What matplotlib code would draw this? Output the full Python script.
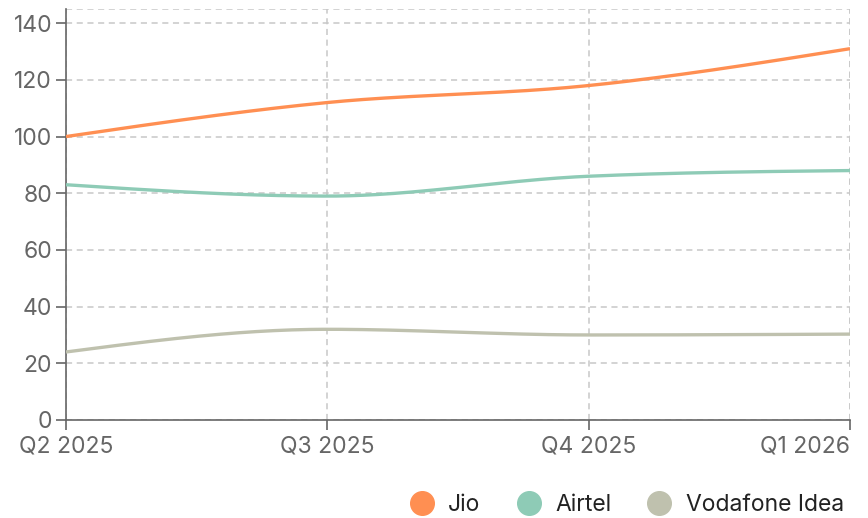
import numpy as np
from matplotlib import pyplot as plt
from matplotlib.lines import Line2D

quarters = ["Q2 2025", "Q3 2025", "Q4 2025", "Q1 2026"]
jio = [100, 112, 118, 131]
airtel = [83, 79, 86, 88]
vodafone = [24, 32, 30, 30.3]

series = [("Jio", jio, "#ff8f52"),
          ("Airtel", airtel, "#8ecbb6"),
          ("Vodafone Idea", vodafone, "#bfc1ae")]


def monotone(x, y, n=60):
  '''
  Monotone cubic curve through the points (like d3 curveMonotoneX).
  '''
  x = np.asarray(x, float)
  y = np.asarray(y, float)
  h = np.diff(x)
  s = np.diff(y) / h
  m = np.zeros_like(y)
  for i in range(1, len(y) - 1):
    if s[i - 1] * s[i] > 0:
      p = (s[i - 1] * h[i] + s[i] * h[i - 1]) / (h[i - 1] + h[i])
      m[i] = (np.sign(s[i - 1]) + np.sign(s[i])) * min(abs(s[i - 1]), abs(s[i]), 0.5 * abs(p))
  m[0] = (3 * s[0] - m[1]) / 2 if len(y) > 2 else s[0]
  m[-1] = (3 * s[-1] - m[-2]) / 2 if len(y) > 2 else s[-1]
  xs, ys = [], []
  for i in range(len(h)):
    t = np.linspace(0, 1, n)
    h00 = 2 * t**3 - 3 * t**2 + 1
    h10 = t**3 - 2 * t**2 + t
    h01 = -2 * t**3 + 3 * t**2
    h11 = t**3 - t**2
    xs.append(x[i] + t * h[i])
    ys.append(h00 * y[i] + h10 * h[i] * m[i] + h01 * y[i + 1] + h11 * h[i] * m[i + 1])
  return np.concatenate(xs), np.concatenate(ys)


plt.rcParams['font.family'] = ['Inter', 'DejaVu Sans']

fig = plt.figure(figsize=(8.68, 5.18), dpi=100)
ax = fig.add_axes([66 / 868, 1 - 420 / 518, (850 - 66) / 868, (420 - 9) / 518])

xpos = np.arange(len(quarters))
for name, vals, col in series:
  cx, cy = monotone(xpos, vals)
  ax.plot(cx, cy, color=col, lw=2.4, solid_capstyle='butt', zorder=3)

ax.set_xlim(0, len(quarters) - 1)
ax.set_ylim(0, 145)
ax.set_xticks(xpos)
ax.set_xticklabels(quarters)
ax.set_yticks(range(0, 141, 20))

grid_kw = dict(color="#c8c8c8", lw=1.1, ls=(0, (4, 3)), zorder=1)
ax.grid(True, **grid_kw)
ax.axhline(145, **grid_kw)
ax.axvline(len(quarters) - 1, **grid_kw)

for side in ["top", "right"]:
  ax.spines[side].set_visible(False)
for side in ["left", "bottom"]:
  ax.spines[side].set_color("#666666")
  ax.spines[side].set_linewidth(1.2)
ax.tick_params(colors="#666666", labelsize=16.5, length=7, width=1.2, pad=3)
ax.tick_params(axis="x", pad=4)
labels = ax.get_xticklabels()
labels[-1].set_horizontalalignment("right")

handles = [Line2D([], [], marker="o", ls="none", color=c, markersize=17, label=n)
           for n, v, c in series]
fig.legend(handles=handles, loc="center right", bbox_to_anchor=(853 / 868, 1 - 505 / 518),
           ncol=3, frameon=False, fontsize=16.5, handletextpad=0.55, columnspacing=1.5,
           handlelength=1.2, borderaxespad=0, labelcolor="#222222")

fig.savefig("out.png", dpi=100)
